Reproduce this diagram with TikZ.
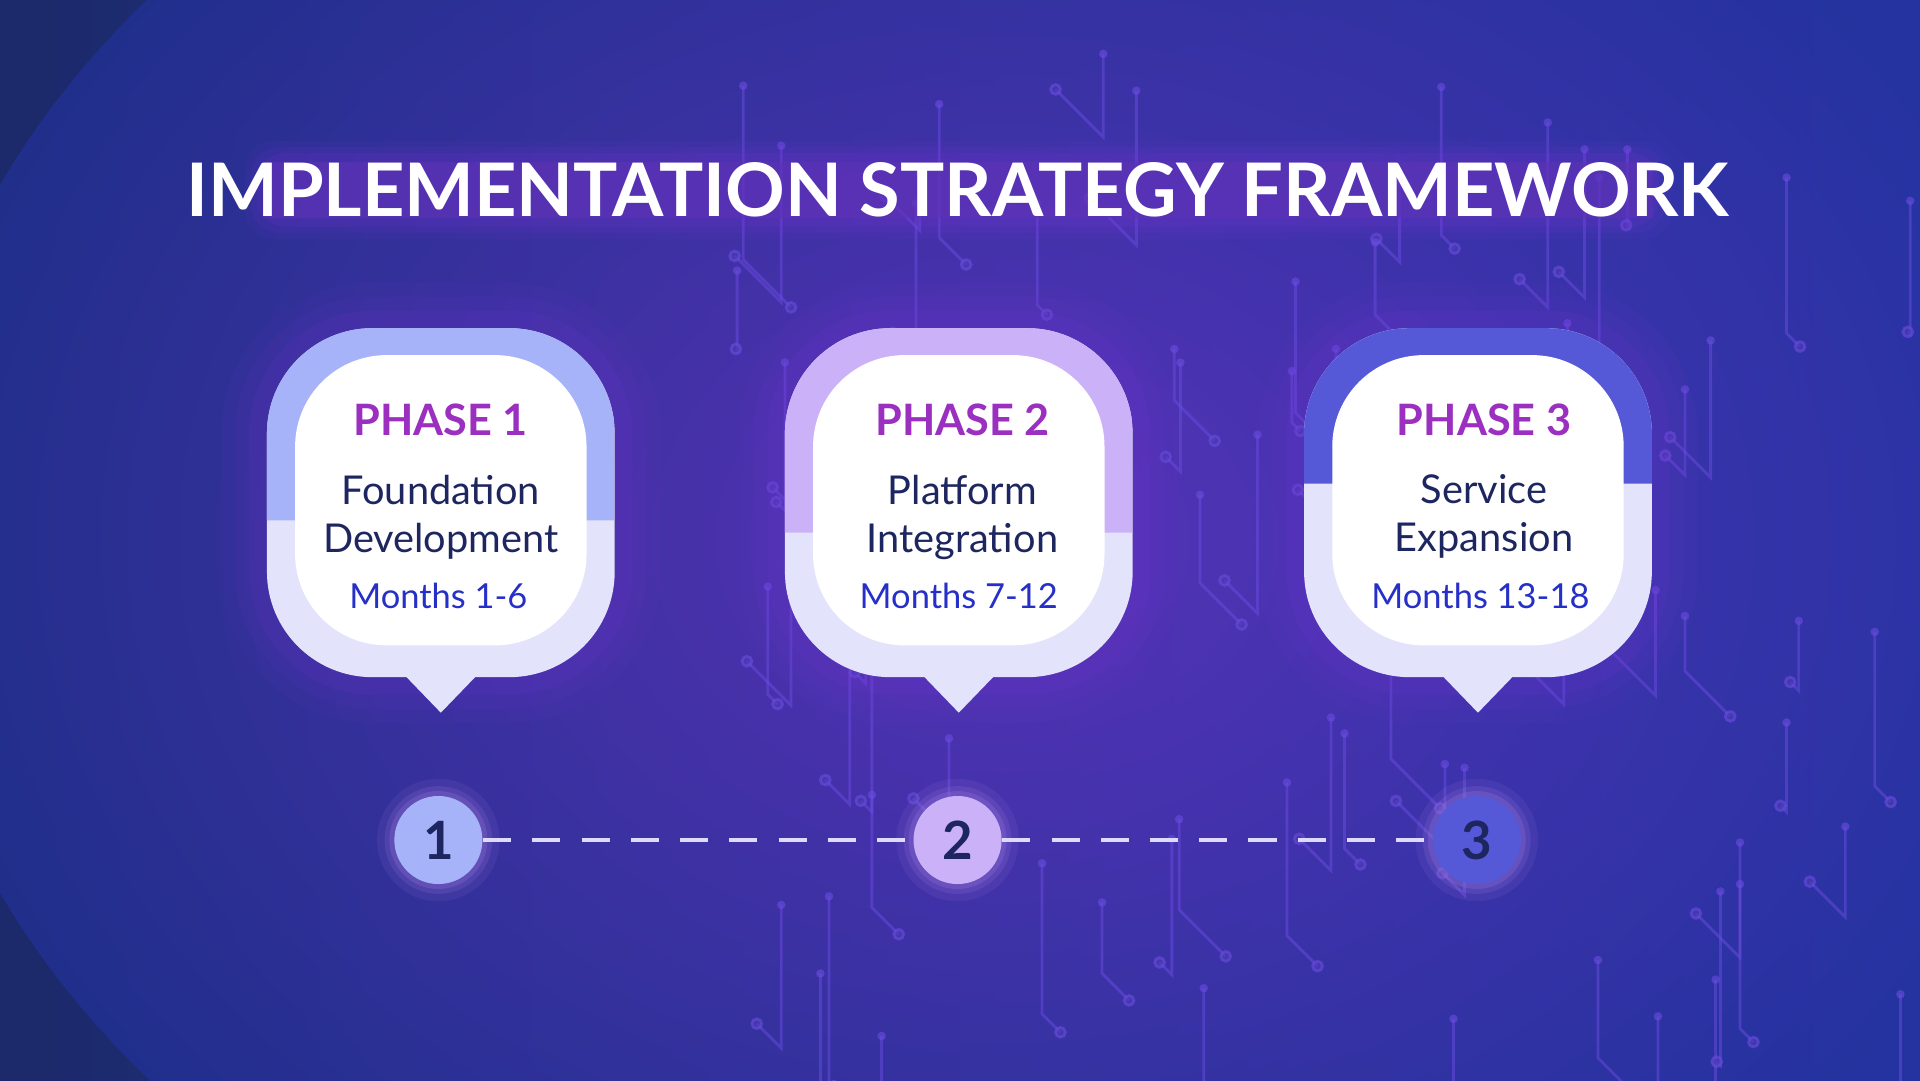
\documentclass[tikz,border=0pt]{standalone}
\usepackage{fontspec}
\setmainfont{Lato}
\usetikzlibrary{positioning}
\definecolor{navy}{HTML}{1C2A6B}
\definecolor{deepblue}{HTML}{2433A0}
\definecolor{glow}{HTML}{7A35D6}
\definecolor{phasepurple}{HTML}{9A2FC0}
\definecolor{textnavy}{HTML}{1E2660}
\definecolor{monthblue}{HTML}{2630C8}
\definecolor{cardlow}{HTML}{E3E4FB}
\definecolor{topa}{HTML}{A6B3F8}
\definecolor{topb}{HTML}{CBB2F8}
\definecolor{topc}{HTML}{5559D8}
\definecolor{trace}{HTML}{6A4CE0}
\tikzset{
    phasetext/.style={font=\bfseries\fontsize{12.3}{15}\selectfont, text=phasepurple},
    bodytext/.style={font=\fontsize{11.3}{13.6}\selectfont, text=textnavy, align=center},
    monthtext/.style={font=\fontsize{9.8}{12}\selectfont, text=monthblue},
    stepdot/.style={circle, minimum size=0.88cm, inner sep=0pt, font=\bfseries\fontsize{15}{16}\selectfont, text=textnavy},
    }
\newcommand{\phasecard}[3]{% x centre, top colour, wave y
  \foreach \w/\o in {26/0.06,18/0.08,10/0.12}
    \draw[glow, line width=\w pt, opacity=\o, rounded corners=30] (#1-142,268) rectangle (#1+142,553);
  \fill[cardlow] (#1-28,553) -- (#1+28,553) -- (#1,582) -- cycle;
  \fill[cardlow, rounded corners=30] (#1-142,268) rectangle (#1+142,553);
  \begin{scope}
    \clip[rounded corners=30] (#1-142,268) rectangle (#1+142,553);
    \fill[#2] (#1-142,268) rectangle (#1+142,#3) -- (#1-142,#3-30) -- cycle;
  \end{scope}
  \fill[white, rounded corners=26] (#1-119,290) rectangle (#1+119,527);
}
\begin{document}
\begin{tikzpicture}[x=0.012245cm, y=-0.012245cm]
\useasboundingbox (0,0) rectangle (1568,882);
\clip (0,0) rectangle (1568,882);
% background
\shade[left color=navy, right color=deepblue] (0,0) rectangle (1568,882);
\shade[inner color=glow, outer color=deepblue, opacity=0.6] (820,440) ellipse (900 and 700);
% circuit traces
\pgfmathsetseed{7}
\foreach \i in {1,...,70}{
  \pgfmathsetmacro{\xa}{600+random(0,960)}
  \pgfmathsetmacro{\ya}{random(0,860)}
  \pgfmathsetmacro{\len}{random(40,160)}
  \pgfmathsetmacro{\dx}{random(-40,40)}
  \draw[trace, opacity=0.5, line width=0.8pt] (\xa,\ya) -- ++(0,\len) -- ++(\dx,\dx) coordinate (e\i);
  \draw[trace, opacity=0.6, line width=0.8pt, fill=trace!60!navy] (e\i) circle (4);
  \fill[trace, opacity=0.6] (\xa,\ya) circle (3.5);
}
% title
\foreach \w/\o in {30/0.08,20/0.1,10/0.15}
  \fill[glow, opacity=\o, rounded corners=8] (215-\w/2,130-\w/2) rectangle (1350+\w/2,180+\w/2);
\fill[glow!70!navy, opacity=0.6] (215,132) rectangle (1350,178);
\node[text=white, font=\bfseries\fontsize{21}{24}\selectfont] (title) at (782,155) {IMPLEMENTATION STRATEGY FRAMEWORK};
% cards
\phasecard{360}{topa}{425}
\phasecard{783}{topb}{435}
\phasecard{1207}{topc}{395}
\node[phasetext] (p1) at (360,343) {PHASE 1};
\node[bodytext, below=4pt of p1] (b1) {Foundation\\Development};
\node[monthtext] (m1) at (358,487) {Months 1-6};
\node[phasetext] (p2) at (786,343) {PHASE 2};
\node[bodytext, below=4pt of p2] (b2) {Platform\\Integration};
\node[monthtext] (m2) at (783,487) {Months 7-12};
\node[phasetext] (p3) at (1212,343) {PHASE 3};
\node[bodytext, below=4pt of p3] (b3) {Service\\Expansion};
\node[monthtext] (m3) at (1209,487) {Months 13-18};
% timeline
\foreach \x/\c/\n in {358/topa/1,782/topb/2,1206/topc/3}{
  \foreach \r/\o in {50/0.1,44/0.15,40/0.2}
    \fill[glow!60!white, opacity=\o] (\x,686) circle (\r);
  \node[stepdot, fill=\c] (s\n) at (\x,686) {\n};
}
\draw[cardlow!80!topb, line width=1.2pt, dash pattern=on 8pt off 6pt] (s1) -- (s2);
\draw[cardlow!80!topb, line width=1.2pt, dash pattern=on 8pt off 6pt] (s2) -- (s3);
\end{tikzpicture}
\end{document}
